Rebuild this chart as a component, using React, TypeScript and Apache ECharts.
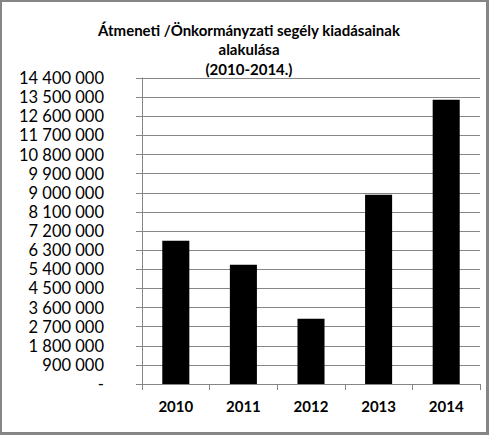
import { useRef, useEffect } from 'react'
import * as echarts from 'echarts'

const titleLines = ['Átmeneti /Önkormányzati segély kiadásainak', 'alakulása', '(2010-2014.)']
const years = ['2010', '2011', '2012', '2013', '2014']
const spending = [6740000, 5610000, 3070000, 8910000, 13380000]
const yMin = 0
const yMax = 14400000
const yStep = 900000

const gridGray = '#868686'

// Excel accounting style: spaces as thousands separator, zero as a dash
const formatHuf = (v: number) => (v === 0 ? '-' : String(Math.round(v)).replace(/\B(?=(\d{3})+(?!\d))/g, ' '))

export default function App() {
  const chartRef = useRef<HTMLDivElement>(null)

  useEffect(() => {
    if (!chartRef.current) return
    const chart = echarts.init(chartRef.current, undefined, { renderer: 'svg' })

    chart.setOption({
      animation: false,
      backgroundColor: '#ffffff',
      title: {
        text: titleLines.join('\n'),
        left: 244,
        textAlign: 'center',
        top: 15,
        textStyle: {
          fontFamily: 'Lato',
          fontWeight: 'bold',
          fontSize: 15,
          lineHeight: 19.5,
          color: '#000',
        },
      },
      grid: { left: 142, right: 9, top: 78, bottom: 51, containLabel: false },
      xAxis: {
        type: 'category',
        data: years,
        axisLine: { lineStyle: { color: gridGray, width: 1 } },
        axisTick: { show: true, length: 6, alignWithLabel: false, lineStyle: { color: gridGray } },
        axisLabel: {
          margin: 14,
          fontFamily: 'Lato',
          fontWeight: 'bold',
          fontSize: 15,
          color: '#000',
        },
        splitLine: { show: false },
      },
      yAxis: {
        type: 'value',
        min: yMin,
        max: yMax,
        interval: yStep,
        axisLine: { show: true, lineStyle: { color: gridGray, width: 1 } },
        axisTick: { show: true, length: 6, lineStyle: { color: gridGray } },
        axisLabel: {
          margin: 38,
          fontFamily: 'Lato',
          fontSize: 16.5,
          lineHeight: 17,
          color: '#000',
          formatter: formatHuf,
        },
        splitLine: { show: true, lineStyle: { color: gridGray, width: 1 } },
      },
      series: [
        {
          type: 'bar',
          data: spending,
          barWidth: '40%',
          itemStyle: { color: '#000' },
        },
      ],
    })

    return () => chart.dispose()
  }, [])

  return (
    <div style={{ position: 'fixed', left: 0, top: 0, width: 489, height: 435 }}>
      <div ref={chartRef} style={{ position: 'absolute', left: 0, top: 0, width: 489, height: 435 }} />
      <div
        style={{
          position: 'absolute',
          inset: 0,
          boxSizing: 'border-box',
          borderStyle: 'solid',
          borderColor: gridGray,
          borderWidth: '2px 3px 3px 2px',
          pointerEvents: 'none',
        }}
      />
    </div>
  )
}
